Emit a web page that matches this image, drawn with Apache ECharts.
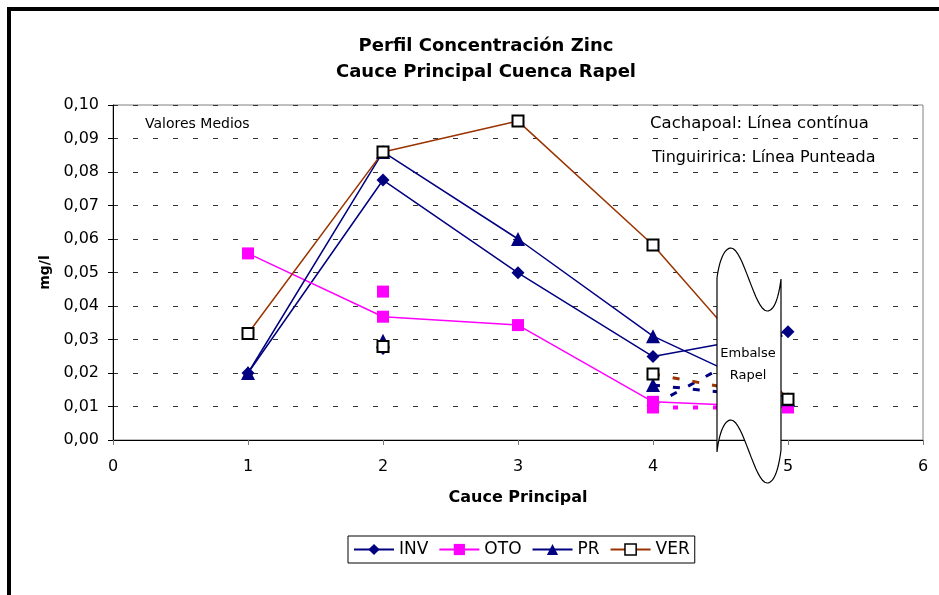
<!DOCTYPE html>
<html>
<head>
<meta charset="utf-8">
<script src="https://cdn.jsdelivr.net/npm/echarts@6/dist/echarts.min.js"></script>
<style>
  html, body { margin: 0; padding: 0; background: #fff; }
  #chart { width: 939px; height: 595px; }
</style>
</head>
<body>
<div id="chart"></div>
<script>
// posiciones en el cauce principal
const cauce = [1, 2, 3, 4, 5];
// Cachapoal: linea continua
const invCach = [0.0200, 0.0776, 0.0499, 0.0249, 0.0323];
const otoCach = [0.0557, 0.0368, 0.0343, 0.0114, 0.0097];
const prCach  = [0.0200, 0.0860, 0.0600, 0.0310, 0.0122];
const verCach = [0.0318, 0.0860, 0.0952, 0.0582, 0.0122];
// Tinguiririca: linea punteada
const cauceTing = [2, 4, 5];
const invTing = [0.0273, 0.0104, 0.0323];
const otoTing = [0.0443, 0.0097, 0.0097];
const prTing  = [0.0296, 0.0164, 0.0122];
const verTing = [0.0279, 0.0197, 0.0122];

const FONT = 'DejaVu Sans';
const NAVY = '#000080', MAGENTA = '#ff00ff', BROWN = '#993300';

function cach(vals) {
  return cauce.map((x, i) => [x, vals[i]]);
}
// puntos sueltos en 2, tramo punteado de 4 a 5 (el punto 5 es el mismo del Cachapoal)
function ting(vals) {
  let out = [];
  cauceTing.forEach((x, i) => {
    if (i > 0 && x - cauceTing[i - 1] > 1) out.push([x - 1, '-']);
    if (i == cauceTing.length - 1) out.push({ value: [x, vals[i]], symbol: 'none' });
    else out.push([x, vals[i]]);
  });
  return out;
}

function solid(name, data, color, symbol, size, item) {
  return {
    name: name, type: 'line', data: data,
    symbol: symbol, symbolSize: size,
    lineStyle: { color: color, width: 1.5 },
    itemStyle: item || { color: color },
    emphasis: { disabled: true }
  };
}
function dotted(name, data, color, symbol, size, item, dash, width) {
  return {
    name: name, type: 'line', data: data,
    symbol: symbol, symbolSize: size,
    lineStyle: { color: color, width: width, type: dash },
    itemStyle: item || { color: color },
    emphasis: { disabled: true }
  };
}

// curva de bezier muestreada, para el corte del embalse
function bez(p0, p1, p2, p3) {
  let pts = [];
  for (let i = 0; i <= 16; i++) {
    let t = i / 16, u = 1 - t;
    pts.push([
      u*u*u*p0[0] + 3*u*u*t*p1[0] + 3*u*t*t*p2[0] + t*t*t*p3[0],
      u*u*u*p0[1] + 3*u*u*t*p1[1] + 3*u*t*t*p2[1] + t*t*t*p3[1]
    ]);
  }
  return pts;
}
let embalse = [].concat(
  bez([717,278], [719,262], [724,248], [731,248]),
  bez([731,248], [743,248], [755,311], [767,311]),
  bez([767,311], [775,311], [779,295], [781,279]),
  [[781,450]],
  bez([781,450], [779,466], [775,483], [767,483]),
  bez([767,483], [755,483], [743,420], [731,420]),
  bez([731,420], [724,420], [719,434], [717,452])
);

const verItem = { color: '#fff', borderColor: '#000', borderWidth: 2 };

let myChart = echarts.init(document.getElementById('chart'));
let option = {
  animation: false,
  backgroundColor: '#fff',
  title: {
    text: 'Perfil Concentración Zinc\nCauce Principal Cuenca Rapel',
    left: 481, top: 28, textAlign: 'center',
    textStyle: { fontFamily: FONT, fontSize: 18, fontWeight: 'bold', color: '#000', lineHeight: 26 }
  },
  legend: {
    data: ['INV', 'OTO', 'PR', {name: 'VER', itemStyle: {borderWidth: 1.5}}],
    left: 348, top: 536,
    itemWidth: 40, itemHeight: 14, itemGap: 10,
    padding: [5, 5],
    borderColor: '#000', borderWidth: 1,
    textStyle: { fontFamily: FONT, fontSize: 17, color: '#000' }
  },
  grid: {
    left: 113, right: 16, top: 105, bottom: 155,
    show: true, borderColor: '#808080', borderWidth: 1, backgroundColor: '#fff'
  },
  xAxis: {
    type: 'value', min: 0, max: 6, interval: 1,
    name: 'Cauce Principal', nameLocation: 'middle', nameGap: 50,
    nameTextStyle: { fontFamily: FONT, fontSize: 16, fontWeight: 'bold', color: '#000' },
    axisLine: { lineStyle: { color: '#000', width: 1 } },
    axisTick: { length: 5, lineStyle: { color: '#777' } },
    axisLabel: { margin: 19, fontFamily: FONT, fontSize: 16, color: '#000' },
    splitLine: { show: false }
  },
  yAxis: {
    type: 'value', min: 0, max: 0.1, interval: 0.01,
    name: 'mg/l', nameLocation: 'middle', nameGap: 60,
    nameTextStyle: { fontFamily: FONT, fontSize: 14, fontWeight: 'bold', color: '#000' },
    axisLine: { show: true, lineStyle: { color: '#000', width: 1 } },
    axisTick: { show: true, length: 5, lineStyle: { color: '#000' } },
    axisLabel: {
      margin: 14, fontFamily: FONT, fontSize: 16, color: '#000',
      formatter: v => v.toFixed(2).replace('.', ',')
    },
    splitLine: { show: true, lineStyle: { color: '#333', width: 1, type: [5, 15] } }
  },
  series: [
    solid('INV', cach(invCach), NAVY, 'diamond', 13),
    dotted('INV T', ting(invTing), NAVY, 'diamond', 13, null, [7, 13], 3),
    solid('OTO', cach(otoCach), MAGENTA, 'rect', 12),
    dotted('OTO T', ting(otoTing), MAGENTA, 'rect', 12, null, [5, 15], 4),
    solid('PR', cach(prCach), NAVY, 'triangle', 14),
    dotted('PR T', ting(prTing), NAVY, 'triangle', 14, null, [7, 13], 3),
    solid('VER', cach(verCach), BROWN, 'rect', 11, verItem),
    dotted('VER T', ting(verTing), BROWN, 'rect', 11, verItem, [7, 13], 3)
  ],
  graphic: [
    // marco del grafico
    { type: 'rect', z: 100, silent: true,
      shape: { x: 9, y: 9, width: 960, height: 620 },
      style: { fill: 'none', stroke: '#000', lineWidth: 4 } },
    { type: 'text', z: 50, silent: true,
      style: { text: 'Valores Medios', x: 145, y: 124, verticalAlign: 'middle',
               font: '14px "DejaVu Sans"', fill: '#000' } },
    { type: 'text', z: 50, silent: true,
      style: { text: 'Cachapoal: Línea contínua', x: 650, y: 124, verticalAlign: 'middle',
               font: '16.5px "DejaVu Sans"', fill: '#000' } },
    { type: 'text', z: 50, silent: true,
      style: { text: 'Tinguiririca: Línea Punteada', x: 652, y: 158, verticalAlign: 'middle',
               font: '16px "DejaVu Sans"', fill: '#000' } },
    // corte del embalse
    { type: 'polygon', z: 60, silent: true,
      shape: { points: embalse },
      style: { fill: '#fff', stroke: '#000', lineWidth: 1.2 } },
    { type: 'text', z: 61, silent: true,
      style: { text: 'Embalse\nRapel', x: 748, y: 365, align: 'center', verticalAlign: 'middle',
               lineHeight: 22, font: '13px "DejaVu Sans"', fill: '#000' } }
  ]
};
myChart.setOption(option);
</script>
</body>
</html>
